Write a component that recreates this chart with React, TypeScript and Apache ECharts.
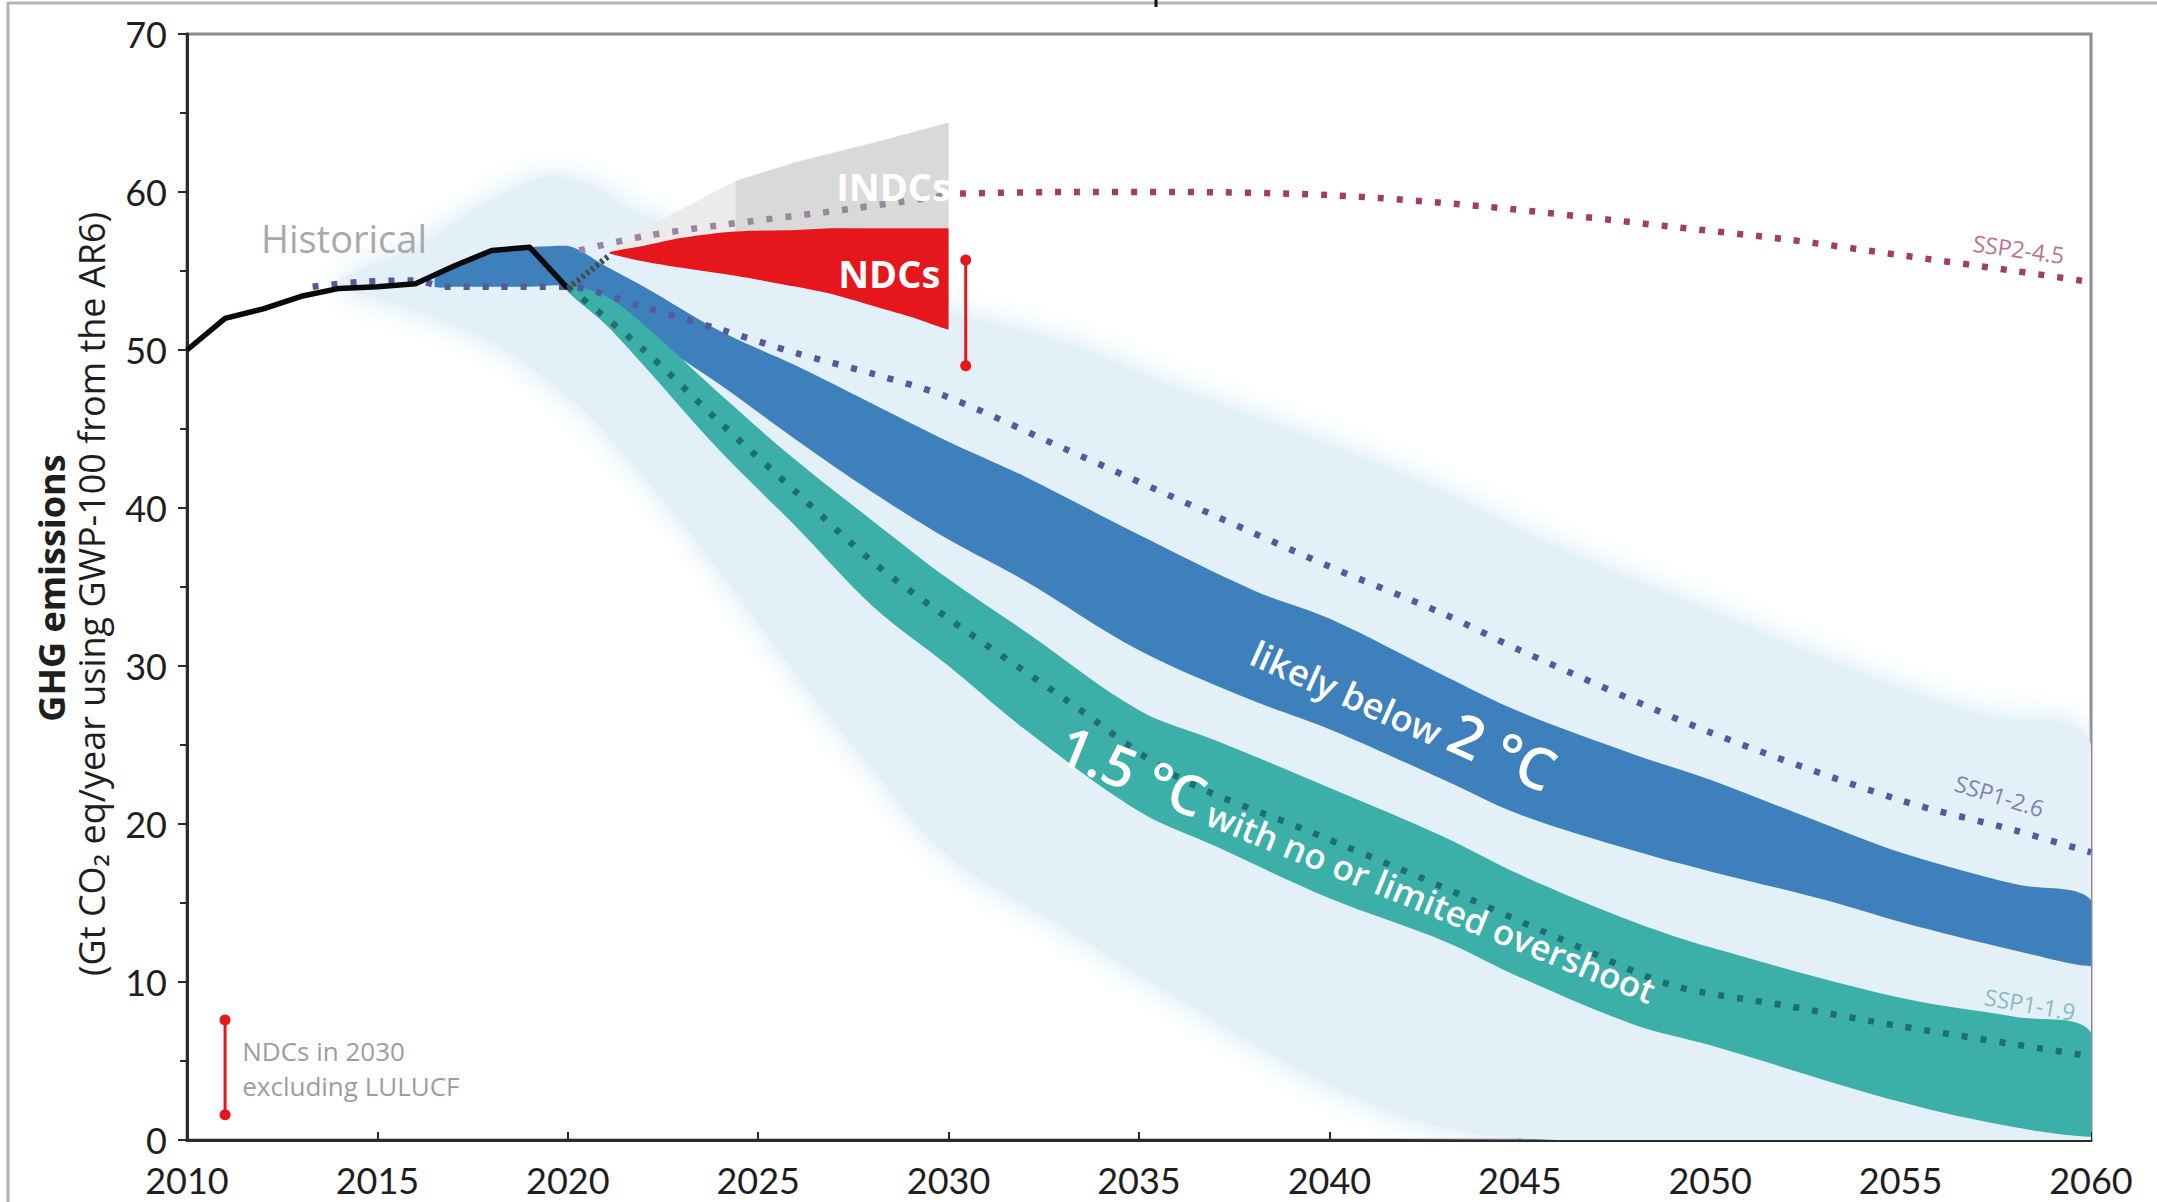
import React, { useEffect, useRef } from "react";
import * as echarts from "echarts";

// ---------- data (years on x, Gt CO2-eq/yr on y) ----------
const X_MIN = 2010;
const X_MAX = 2060;
const Y_MIN = 0;
const Y_MAX = 70;

const HIST_YEARS = [2010, 2011, 2012, 2013, 2014, 2015, 2016, 2017, 2018, 2019, 2020];
const HIST_VALUES = [50.0, 52.0, 52.6, 53.4, 53.9, 54.0, 54.2, 55.3, 56.3, 56.5, 53.9];

const BRIDGE_YEARS = [2020, 2021.1];
const BRIDGE_VALUES = [53.9, 56.0];

const CLOUD_YEARS = [2014, 2016, 2018, 2019.5, 2020.5, 2022, 2024, 2026, 2028, 2030, 2033, 2036, 2040, 2043, 2046, 2050, 2054, 2057, 2060];
const CLOUD_LOW = [54.0, 52.5, 50.5, 48.0, 46.0, 42.0, 36.0, 29.5, 23.5, 18.0, 13.5, 9.0, 3.5, 0.8, 0, 0, 0, 0, 0];
const CLOUD_HIGH = [54.5, 56.5, 59.5, 61.0, 60.5, 58.5, 57.0, 55.5, 54.0, 52.4, 50.5, 47.6, 44.0, 41.0, 37.5, 33.5, 29.5, 27.0, 25.0];

const BLUE_YEARS = [2016.5, 2017, 2018, 2019, 2020, 2021, 2022, 2024, 2026, 2028, 2030, 2032, 2035, 2038, 2040, 2043, 2045, 2048, 2050, 2053, 2055, 2058, 2060];
const BLUE_LOW = [54.0, 54.0, 54.0, 54.0, 54.0, 52.6, 51.0, 47.8, 44.3, 41.0, 38.0, 35.4, 31.0, 27.8, 26.0, 22.8, 20.6, 18.3, 17.0, 15.2, 13.8, 12.0, 11.0];
const BLUE_HIGH = [54.5, 55.2, 56.2, 56.5, 56.6, 55.3, 54.0, 51.2, 49.0, 46.6, 44.2, 42.0, 38.3, 34.8, 33.0, 29.4, 27.1, 24.4, 22.8, 20.0, 18.2, 16.2, 15.2];

const TEAL_YEARS = [2020, 2021, 2022, 2024, 2026, 2028, 2030, 2032, 2035, 2037, 2040, 2043, 2045, 2048, 2050, 2055, 2058, 2060];
const TEAL_LOW = [53.7, 51.6, 49.0, 43.6, 38.8, 33.8, 30.0, 26.0, 20.8, 18.6, 15.3, 12.6, 10.3, 7.3, 6.0, 2.4, 0.8, 0.2];
const TEAL_HIGH = [54.1, 53.4, 51.6, 47.2, 43.0, 39.2, 35.5, 32.2, 27.2, 25.3, 22.3, 19.2, 16.8, 13.8, 12.2, 9.0, 7.8, 6.8];

const NDC_YEARS = [2021.1, 2022, 2023, 2024.4, 2026, 2027, 2028, 2029, 2030];
const NDC_LOW = [56.1, 55.6, 55.2, 54.7, 54.0, 53.5, 52.8, 52.1, 51.3];
const NDC_HIGH = [56.2, 56.6, 57.1, 57.5, 57.6, 57.7, 57.7, 57.7, 57.7];

const INDC_EARLY_YEARS = [2021.1, 2022.5, 2024.4];
const INDC_EARLY_LOW = [56.2, 56.8, 57.5];
const INDC_EARLY_HIGH = [56.4, 58.3, 60.7];
const INDC_YEARS = [2024.4, 2026, 2028, 2030];
const INDC_LOW = [57.5, 57.6, 57.7, 57.7];
const INDC_HIGH = [60.7, 61.9, 63.1, 64.4];

const SSP245_EARLY_YEARS = [2020.3, 2022, 2024, 2027, 2030];
const SSP245_EARLY = [56.3, 57.2, 57.9, 58.8, 59.8];
const SSP245_YEARS = [2030.3, 2033, 2036, 2040, 2044, 2049, 2052, 2055, 2058, 2060];
const SSP245 = [59.9, 60.0, 60.0, 59.8, 59.1, 57.8, 57.0, 56.0, 55.0, 54.3];

const SSP126_YEARS = [2013.3, 2014.5, 2016, 2016.8, 2018, 2020, 2022, 2024, 2026, 2028, 2030, 2033, 2037, 2040, 2043, 2045, 2050, 2055, 2058, 2060];
const SSP126 = [54.0, 54.3, 54.4, 54.0, 54.0, 54.0, 52.7, 51.3, 49.8, 48.5, 47.0, 43.8, 39.5, 36.3, 33.3, 31.0, 25.8, 21.5, 19.6, 18.2];

const SSP119_YEARS = [2020, 2022, 2024, 2026, 2028, 2030, 2033, 2036, 2039.5, 2042.5, 2046, 2049, 2052, 2055, 2060];
const SSP119 = [54.0, 50.0, 45.4, 41.0, 36.6, 33.0, 28.0, 23.0, 19.5, 16.5, 12.8, 9.8, 8.5, 7.2, 5.3];

const NDC_RANGE_YEARS = [2030.45, 2030.45];
const NDC_RANGE = [55.7, 49.0];
const KEY_RANGE_YEARS = [2011, 2011];
const KEY_RANGE = [7.6, 1.6];

// ---------- helpers ----------
const pairs = (xs: number[], ys: number[]) => xs.map((x, i) => [x, ys[i]]);

function band(id: string, xs: number[], lo: number[], hi: number[], color: string, z: number, smooth: number, extra: any = {}) {
  return {
    type: "custom",
    id,
    z,
    silent: true,
    clip: true,
    data: xs.map((x, i) => [x, lo[i], hi[i]]),
    encode: { x: 0, y: [1, 2] },
    renderItem: (params: any, api: any) => {
      if (params.dataIndex !== 0) return null;
      const top = xs.map((x, i) => api.coord([x, hi[i]]));
      const bot = xs.map((x, i) => api.coord([x, lo[i]])).reverse();
      const pts = [...top, ...bot];
      let minX = Infinity, minY = Infinity, maxX = -Infinity, maxY = -Infinity;
      pts.forEach((p: number[]) => {
        minX = Math.min(minX, p[0]); maxX = Math.max(maxX, p[0]);
        minY = Math.min(minY, p[1]); maxY = Math.max(maxY, p[1]);
      });
      return {
        type: "polygon",
        shape: { points: pts, smooth, smoothConstraint: [[minX, minY], [maxX, maxY]] },
        style: { fill: color, ...extra },
      };
    },
  };
}

function dotted(id: string, xs: number[], ys: number[], color: string, z: number) {
  return {
    type: "line",
    id,
    data: pairs(xs, ys),
    symbol: "none",
    smooth: 0.3,
    silent: true,
    z,
    lineStyle: { color, width: 6.5, type: [6, 13], cap: "butt" },
  };
}

function rangeBar(id: string, xs: number[], ys: number[]) {
  return {
    type: "line",
    id,
    data: pairs(xs, ys),
    symbol: "circle",
    symbolSize: 11,
    silent: true,
    z: 9,
    itemStyle: { color: "#e5161c" },
    lineStyle: { color: "#e5161c", width: 3 },
  };
}

const AXIS_FONT = "Lato";
const TEXT_FONT = "Open Sans";

const option: any = {
  animation: false,
  backgroundColor: "#ffffff",
  grid: {
    left: 187,
    right: 66,
    top: 34,
    bottom: 62,
    show: true,
    borderColor: "#8c8c8c",
    borderWidth: 3,
    backgroundColor: "transparent",
  },
  xAxis: {
    type: "value",
    min: X_MIN,
    max: X_MAX,
    interval: 5,
    splitLine: { show: false },
    axisLine: { show: true, onZero: false, lineStyle: { color: "#2b2b2b", width: 3 } },
    axisTick: { show: true, inside: true, length: 8, lineStyle: { color: "#2b2b2b", width: 2 } },
    axisLabel: {
      color: "#1e1e1e",
      fontSize: 36,
      lineHeight: 36,
      fontFamily: AXIS_FONT,
      margin: 22,
      formatter: (v: number) => String(v),
    },
  },
  yAxis: {
    type: "value",
    min: Y_MIN,
    max: Y_MAX,
    interval: 10,
    splitLine: { show: false },
    axisLine: { show: true, lineStyle: { color: "#2b2b2b", width: 3 } },
    axisTick: { show: true, length: 9, lineStyle: { color: "#2b2b2b", width: 2 } },
    minorTick: { show: true, splitNumber: 2, length: 7, lineStyle: { color: "#2b2b2b", width: 2 } },
    axisLabel: { color: "#1e1e1e", fontSize: 36, lineHeight: 36, fontFamily: AXIS_FONT, margin: 20 },
  },
  series: [
    band("cloud", CLOUD_YEARS, CLOUD_LOW, CLOUD_HIGH, "#e3f0f7", 1, 0.4, { shadowBlur: 30, shadowColor: "rgba(208,230,242,0.95)" }),
    band("indc-early", INDC_EARLY_YEARS, INDC_EARLY_LOW, INDC_EARLY_HIGH, "#ebebeb", 2, 0),
    band("indc", INDC_YEARS, INDC_LOW, INDC_HIGH, "#d9d9d9", 2, 0),
    band("ndc", NDC_YEARS, NDC_LOW, NDC_HIGH, "#e5161c", 3, 0.3),
    band("blue", BLUE_YEARS, BLUE_LOW, BLUE_HIGH, "#3d80bb", 4, 0.35),
    band("teal", TEAL_YEARS, TEAL_LOW, TEAL_HIGH, "#3cb0a8", 5, 0.35),
    dotted("ssp245-early", SSP245_EARLY_YEARS, SSP245_EARLY, "#9a879f", 6),
    dotted("ssp245", SSP245_YEARS, SSP245, "#a23e66", 6),
    dotted("ssp126", SSP126_YEARS, SSP126, "#55599d", 6),
    dotted("ssp119", SSP119_YEARS, SSP119, "#1f6e72", 6),
    {
      type: "line",
      id: "historical",
      data: pairs(HIST_YEARS, HIST_VALUES),
      symbol: "none",
      silent: true,
      z: 8,
      lineStyle: { color: "#0a0a0a", width: 5.5, join: "round" },
    },
    {
      type: "line",
      id: "bridge",
      data: pairs(BRIDGE_YEARS, BRIDGE_VALUES),
      symbol: "none",
      silent: true,
      z: 8,
      lineStyle: { color: "#4a4a4a", width: 6, type: [3, 3] },
    },
    rangeBar("ndc-range", NDC_RANGE_YEARS, NDC_RANGE),
    rangeBar("key-range", KEY_RANGE_YEARS, KEY_RANGE),
  ],
};

const deg = (d: number) => (d * Math.PI) / 180;

function buildGraphic(p: (x: number, y: number) => number[]) {
  const txt = (at: number[], text: string, style: any, rotation = 0) => ({
    type: "text",
    x: at[0],
    y: at[1],
    rotation,
    z: 100,
    silent: true,
    style: { text, fontFamily: TEXT_FONT, ...style },
  });
  return [
    { type: "line", silent: true, shape: { x1: 7, y1: 3, x2: 2157, y2: 3 }, style: { stroke: "#b3b3b3", lineWidth: 3 } },
    { type: "line", silent: true, shape: { x1: 8, y1: 3, x2: 8, y2: 1202 }, style: { stroke: "#b3b3b3", lineWidth: 3 } },
    { type: "line", silent: true, shape: { x1: 1156, y1: 0, x2: 1156, y2: 7 }, style: { stroke: "#111", lineWidth: 3 } },
    txt([51, 588], "GHG emissions", { fontSize: 36, fontWeight: "bold", fill: "#1e1e1e", align: "center", verticalAlign: "middle" }, deg(90)),
    txt([91, 594], "(Gt CO\u2082 eq/year using GWP-100 from the AR6)", { fontSize: 36, fill: "#1e1e1e", align: "center", verticalAlign: "middle" }, deg(90)),
    txt(p(2011.94, 57.1), "Historical", { fontSize: 38, fill: "#a9a9a9", align: "left", verticalAlign: "middle" }),
    txt(p(2027.05, 60.4), "INDCs", { fontSize: 38, fontWeight: "bold", fill: "#ffffff", align: "left", verticalAlign: "middle" }),
    txt(p(2027.1, 54.9), "NDCs", { fontSize: 38, fontWeight: "bold", fill: "#ffffff", align: "left", verticalAlign: "middle" }),
    txt(
      p(2037.8, 29.9),
      "{a|likely below }{b|2 \u00b0C}",
      {
        fill: "#ffffff",
        align: "left",
        verticalAlign: "bottom",
        rich: {
          a: { fontSize: 36, fontWeight: 600, fill: "#ffffff", fontFamily: TEXT_FONT, verticalAlign: "bottom" },
          b: { fontSize: 58, fontWeight: 600, fill: "#ffffff", fontFamily: TEXT_FONT, verticalAlign: "bottom" },
        },
      },
      deg(-24)
    ),
    txt(
      p(2032.7, 23.6),
      "{b|1.5 \u00b0C}{a| with no or limited overshoot}",
      {
        fill: "#ffffff",
        align: "left",
        verticalAlign: "bottom",
        rich: {
          a: { fontSize: 35, fontWeight: 600, fill: "#ffffff", fontFamily: TEXT_FONT, verticalAlign: "bottom" },
          b: { fontSize: 56, fontWeight: 600, fill: "#ffffff", fontFamily: TEXT_FONT, verticalAlign: "bottom" },
        },
      },
      deg(-22)
    ),
    txt(p(2058.1, 56.4), "SSP2-4.5", { fontSize: 23, fill: "#bb7391", align: "center", verticalAlign: "middle" }, deg(-8)),
    txt(p(2057.6, 21.8), "SSP1-2.6", { fontSize: 23, fill: "#7e82b2", align: "center", verticalAlign: "middle" }, deg(-17)),
    txt(p(2058.4, 8.6), "SSP1-1.9", { fontSize: 23, fill: "#86bdb9", align: "center", verticalAlign: "middle" }, deg(-10)),
    txt(p(2011.45, 4.55), "NDCs in 2030\nexcluding LULUCF", { fontSize: 26, lineHeight: 35, fill: "#9d9d9d", align: "left", verticalAlign: "middle" }),
  ];
}

export default function App() {
  const ref = useRef<HTMLDivElement | null>(null);
  useEffect(() => {
    if (!ref.current) return;
    const chart = echarts.init(ref.current, null, { renderer: "svg" });
    chart.setOption(option);
    const p = (x: number, y: number) => chart.convertToPixel({ gridIndex: 0 }, [x, y]) as number[];
    chart.setOption({ graphic: buildGraphic(p) });
    return () => chart.dispose();
  }, []);
  return (
    <div
      ref={ref}
      style={{ position: "fixed", left: 0, top: 0, width: 2157, height: 1202, background: "#ffffff" }}
    />
  );
}
